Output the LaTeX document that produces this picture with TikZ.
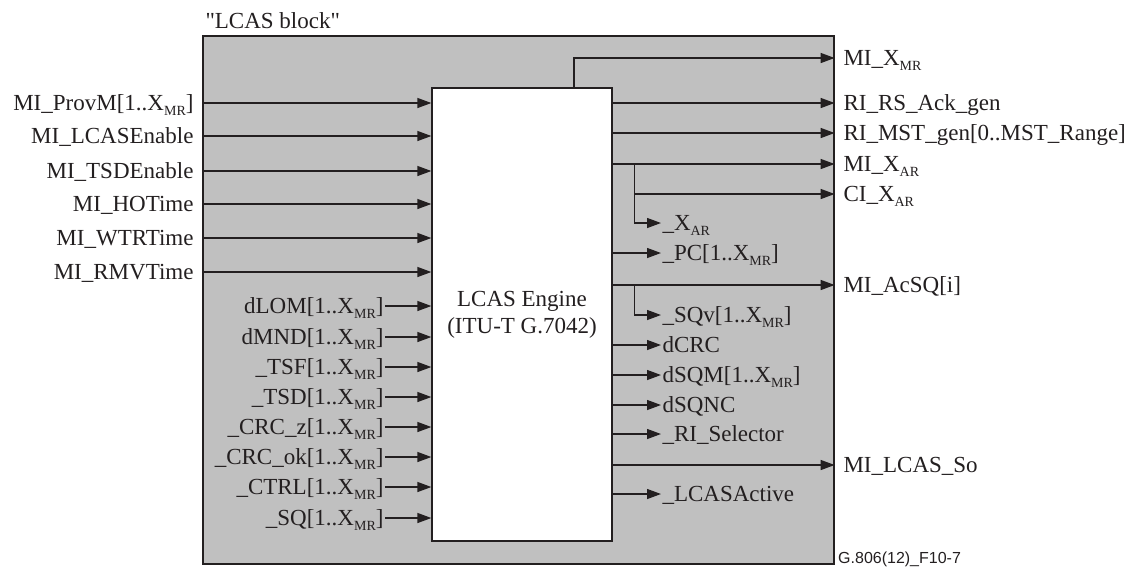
\documentclass[tikz,border=0pt]{standalone}
\usepackage{fontspec}
\setmainfont{Liberation Serif}
\newfontfamily\figfont{Liberation Sans}
\usetikzlibrary{arrows.meta, positioning, calc}
\definecolor{blockGray}{RGB}{192,192,192}
\definecolor{inkC}{RGB}{35,31,32}
\newcommand\lsub[1]{\raisebox{-5pt}{\fontsize{14}{14}\selectfont #1}}
\tikzset{
    % Boxes
    block/.style={rectangle, draw=inkC, fill=blockGray, line width=1.3pt, inner sep=0pt},
    engine/.style={rectangle, draw=inkC, fill=white, line width=1.3pt, align=center,
                   font=\fontsize{23}{27}\selectfont, text=inkC},
    % Signals
    wire/.style={line width=1.3pt, draw=inkC},
    sig/.style={wire, -{Triangle[length=14pt,width=10pt]}},
    % Labels
    lbl/.style={inner sep=0pt, outer sep=1.5pt, text height=15pt, text depth=0pt,
                font=\fontsize{23}{27}\selectfont, text=inkC},
    lblL/.style={lbl, anchor=east},
    lblR/.style={lbl, anchor=west}
}
\begin{document}
\begin{tikzpicture}[x=1pt, y=-1pt]
\useasboundingbox (0,0) rectangle (1143,566);

\node[block, minimum width=631pt, minimum height=528pt] (lcas) at (518.5,300) {};
\node[engine, minimum width=180pt, minimum height=453pt] (engine) at (522,314.5)
    {LCAS Engine\\(ITU-T G.7042)};

\node[lbl, anchor=base west, text height=, text depth=] (title) at (204,28)
    {\textquotedbl LCAS block\textquotedbl};
\node[anchor=base west, inner sep=0pt, font=\figfont\fontsize{16}{18}\selectfont, text=inkC]
    (figid) at (838,563) {G.806(12)\_F10-7};

% management inputs from the block edge
\foreach \y/\nm/\txt in {103/provm/{MI\_ProvM[1..X\lsub{MR}]}, 136/lcasen/{MI\_LCASEnable},
        171/tsden/{MI\_TSDEnable}, 204/hotime/{MI\_HOTime}, 238/wtrtime/{MI\_WTRTime},
        272/rmvtime/{MI\_RMVTime}}{
    \node[lblL] (\nm) at (195,\y) {\txt};
    \draw[sig] (lcas.west |- \nm.east) -- (engine.west |- \nm.east);
}

% internal inputs
\foreach \y/\nm/\txt in {306/dlom/{dLOM[1..X\lsub{MR}]}, 337/dmnd/{dMND[1..X\lsub{MR}]},
        367/tsf/{\_TSF[1..X\lsub{MR}]}, 397/tsd/{\_TSD[1..X\lsub{MR}]},
        427/crcz/{\_CRC\_z[1..X\lsub{MR}]}, 457/crcok/{\_CRC\_ok[1..X\lsub{MR}]},
        487/ctrl/{\_CTRL[1..X\lsub{MR}]}, 518/sq/{\_SQ[1..X\lsub{MR}]}}{
    \node[lblL] (\nm) at (385,\y) {\txt};
    \draw[sig] (\nm.east) -- (engine.west |- \nm.east);
}

% outputs leaving the block
\node[lblR] (mixmr) at (842,58) {MI\_X\lsub{MR}};
\foreach \y/\nm/\txt in {103/rsack/{RI\_RS\_Ack\_gen}, 133/mstgen/{RI\_MST\_gen[0..MST\_Range]},
        164/mixar/{MI\_X\lsub{AR}}, 285/acsq/{MI\_AcSQ[i]}, 465/lcasso/{MI\_LCAS\_So}}{
    \node[lblR] (\nm) at (842,\y) {\txt};
    \draw[sig] (engine.east |- \nm.west) -- (lcas.east |- \nm.west);
}
\node[lblR] (cixar) at (842,194) {CI\_X\lsub{AR}};

\draw[sig] ([xshift=52pt]engine.north) |- (lcas.east |- mixmr.west);

% internal outputs
\foreach \y/\nm/\txt in {253/pc/{\_PC[1..X\lsub{MR}]}, 345/dcrc/{dCRC},
        375/dsqm/{dSQM[1..X\lsub{MR}]}, 405/dsqnc/{dSQNC}, 434/risel/{\_RI\_Selector},
        494/lcasact/{\_LCASActive}}{
    \node[lblR] (\nm) at (661,\y) {\txt};
    \draw[sig] (engine.east |- \nm.west) -- (\nm.west);
}
\node[lblR] (xar) at (661,223) {\_X\lsub{AR}};
\node[lblR] (sqv) at (661,315) {\_SQv[1..X\lsub{MR}]};

% branches
\coordinate (tapxar) at ([xshift=22pt]engine.east |- mixar.west);
\coordinate (tapsq) at ([xshift=22pt]engine.east |- acsq.west);
\draw[sig] (tapxar) |- (lcas.east |- cixar.west);
\draw[sig] (tapxar) |- (xar.west);
\draw[sig] (tapsq) |- (sqv.west);

\end{tikzpicture}
\end{document}
